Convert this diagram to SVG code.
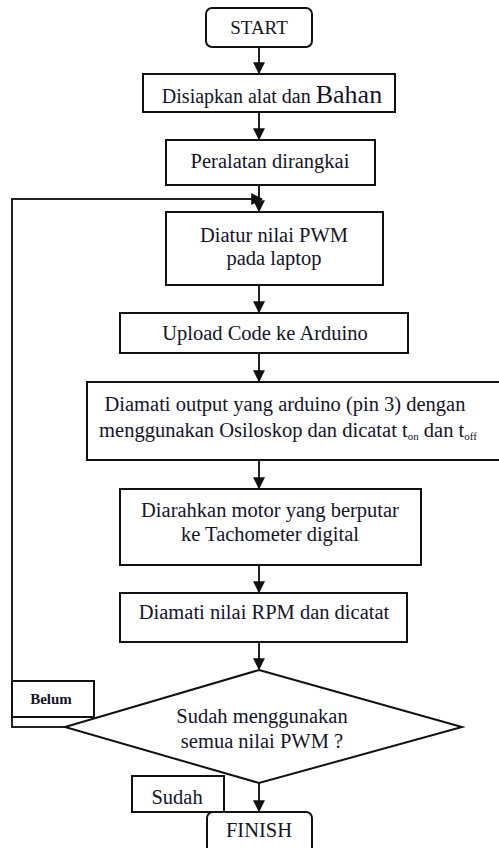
<svg xmlns="http://www.w3.org/2000/svg" width="499" height="848" viewBox="0 0 499 848">
<style>
.b{fill:#fff;stroke:#111;stroke-width:2}
.t{font-family:"Liberation Serif","Times New Roman",serif;font-size:20.5px;fill:#141428;text-anchor:middle}
.c{fill:none;stroke:#222;stroke-width:2}
</style>
<defs>
<marker id="ah" viewBox="0 0 10 10" refX="9" refY="5" markerWidth="6" markerHeight="6" orient="auto" markerUnits="strokeWidth">
<path d="M0,0 L10,5 L0,10 z" fill="#111"/>
</marker>
</defs>
<rect width="499" height="848" fill="#fff"/>
<g id="connectors">
<line class="c" x1="259" y1="47" x2="259" y2="73" marker-end="url(#ah)"/>
<line class="c" x1="259" y1="112" x2="259" y2="139" marker-end="url(#ah)"/>
<line class="c" x1="259" y1="185" x2="259" y2="211" marker-end="url(#ah)"/>
<polyline class="c" points="65,727 12,727 12,199 262,199" marker-end="url(#ah)"/>
<line class="c" x1="259" y1="285" x2="259" y2="312" marker-end="url(#ah)"/>
<line class="c" x1="259" y1="353" x2="259" y2="381" marker-end="url(#ah)"/>
<line class="c" x1="259" y1="460" x2="259" y2="488" marker-end="url(#ah)"/>
<line class="c" x1="259" y1="565" x2="259" y2="592" marker-end="url(#ah)"/>
<line class="c" x1="259" y1="642" x2="259" y2="669" marker-end="url(#ah)"/>
<line class="c" x1="259" y1="783" x2="259" y2="811" marker-end="url(#ah)"/>
</g>
<g id="start">
<rect class="b" x="206" y="8" width="106" height="39" rx="6"/>
<text class="t" x="259" y="34" style="font-size:19px">START</text>
</g>
<g id="disiapkan">
<rect class="b" x="143" y="74" width="252" height="38"/>
<text class="t" x="272" y="103"><tspan style="font-size:20px">Disiapkan alat dan </tspan><tspan style="font-size:26px">Bahan</tspan></text>
</g>
<g id="peralatan">
<rect class="b" x="166" y="140" width="209" height="45"/>
<text class="t" x="270" y="168">Peralatan dirangkai</text>
</g>
<g id="diatur">
<rect class="b" x="166" y="212" width="217" height="73"/>
<text class="t" x="274" y="242">Diatur nilai PWM</text>
<text class="t" x="274" y="265">pada laptop</text>
</g>
<g id="upload">
<rect class="b" x="120" y="313" width="288" height="40"/>
<text class="t" x="265" y="340">Upload Code ke Arduino</text>
</g>
<g id="diamati-output">
<rect class="b" x="87" y="382" width="430" height="78"/>
<text class="t" x="285" y="411">Diamati output yang arduino (pin 3) dengan</text>
<text class="t" x="288" y="437">menggunakan Osiloskop dan dicatat t<tspan style="font-size:11px" dy="3">on</tspan><tspan dy="-3"> dan t</tspan><tspan style="font-size:11px" dy="3">off</tspan></text>
</g>
<g id="diarahkan">
<rect class="b" x="120" y="489" width="301" height="76"/>
<text class="t" x="270" y="517">Diarahkan motor yang berputar</text>
<text class="t" x="270" y="541">ke Tachometer digital</text>
</g>
<g id="diamati-rpm">
<rect class="b" x="120" y="593" width="287" height="49"/>
<text class="t" x="264" y="619">Diamati nilai RPM dan dicatat</text>
</g>
<g id="decision">
<polygon class="b" points="259,670 462,727 259,783 65,727"/>
<text class="t" x="262" y="723">Sudah menggunakan</text>
<text class="t" x="262" y="748">semua nilai PWM ?</text>
</g>
<g id="belum">
<rect class="b" x="12" y="681" width="82" height="36"/>
<text class="t" x="51" y="704" style="font-size:15px;font-weight:bold">Belum</text>
</g>
<g id="sudah">
<rect class="b" x="132" y="776" width="92" height="36"/>
<text class="t" x="177" y="804">Sudah</text>
</g>
<g id="finish">
<rect class="b" x="207" y="812" width="105" height="42" rx="6"/>
<text class="t" x="259" y="837">FINISH</text>
</g>
</svg>
